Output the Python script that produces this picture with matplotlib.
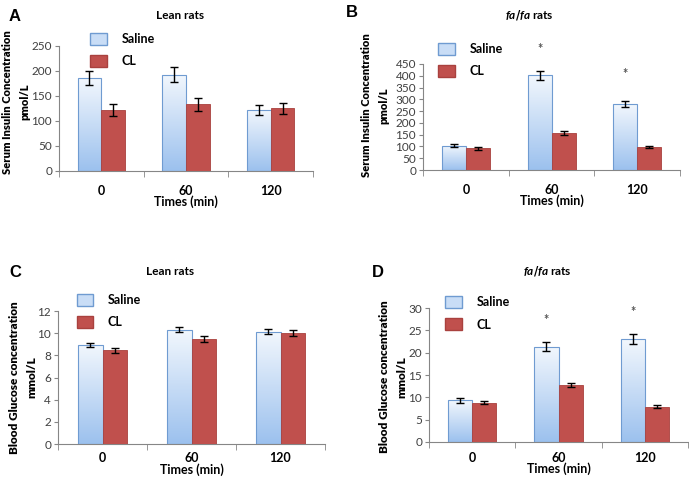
import numpy as np
import matplotlib.pyplot as plt
from matplotlib.patches import Patch
from matplotlib.colors import LinearSegmentedColormap

plt.rcParams['font.family'] = ['Lato', 'DejaVu Sans']
plt.rcParams['font.weight'] = 'bold'
plt.rcParams['mathtext.fontset'] = 'custom'
plt.rcParams['mathtext.it'] = 'Lato:italic:bold'

times = ['0', '60', '120']

# A: serum insulin, lean rats (pmol/L)
insulin_lean_saline = [185, 192, 122]
insulin_lean_saline_err = [14, 15, 10]
insulin_lean_cl = [121, 133, 125]
insulin_lean_cl_err = [12, 13, 11]

# B: serum insulin, fa/fa rats
insulin_fa_saline = [103, 402, 280]
insulin_fa_saline_err = [6, 20, 14]
insulin_fa_cl = [93, 157, 97]
insulin_fa_cl_err = [6, 8, 4]
insulin_fa_stars = [None, 514, 408]

# C: blood glucose, lean rats (mmol/L)
glucose_lean_saline = [8.95, 10.3, 10.15]
glucose_lean_saline_err = [0.2, 0.22, 0.2]
glucose_lean_cl = [8.45, 9.5, 10.0]
glucose_lean_cl_err = [0.25, 0.28, 0.3]

# D: blood glucose, fa/fa rats
glucose_fa_saline = [9.3, 21.3, 23.0]
glucose_fa_saline_err = [0.6, 1.0, 1.1]
glucose_fa_cl = [8.8, 12.8, 7.9]
glucose_fa_cl_err = [0.3, 0.4, 0.3]
glucose_fa_stars = [None, 27.3, 29.0]

blue_cmap = LinearSegmentedColormap.from_list('sal', ['#f2f7fd', '#9cc1ee'])
red = '#c0504d'
edge_blue = '#6f9bd1'
grey = '#868686'


def panel(rect, sal, sal_err, cl, cl_err, ymax, ystep, ylabel, lab_pos, lab_size, xpad, stars=None):
    ax = fig.add_axes(rect)
    x = np.arange(len(times))
    w = 0.28
    bars = ax.bar(x - w / 2, sal, w, color='none', edgecolor=edge_blue, linewidth=0.8, zorder=3)
    for b in bars:
        x0, h = b.get_x(), b.get_height()
        im = ax.imshow(np.linspace(0, 1, 100).reshape(-1, 1), cmap=blue_cmap, aspect='auto',
                       extent=[x0, x0 + w, 0, h], origin='upper', zorder=2)
        im.set_clip_path(b)
    ax.bar(x + w / 2, cl, w, color=red, edgecolor='#a9413e', linewidth=0.6, zorder=3)
    ax.errorbar(x - w / 2, sal, yerr=sal_err, fmt='none', ecolor='black', elinewidth=1, capsize=3, zorder=4)
    ax.errorbar(x + w / 2, cl, yerr=cl_err, fmt='none', ecolor='black', elinewidth=1, capsize=3, zorder=4)
    if stars:
        for xi, s in zip(x, stars):
            if s is not None:
                ax.text(xi - w / 2, s, '*', ha='center', va='center', fontsize=9, color='#555555', clip_on=False)
    ax.set_xlim(-0.5, len(times) - 0.5)
    ax.set_ylim(0, ymax)
    ax.set_yticks(np.arange(0, ymax + ystep / 2, ystep))
    ax.set_xticks(x)
    ax.set_xticklabels(times, fontsize=9, fontweight='bold')
    ax.set_xticks(np.arange(-0.5, len(times)), minor=True)
    ax.tick_params(axis='x', which='major', length=0, pad=xpad)
    ax.tick_params(axis='x', which='minor', length=4, color=grey, direction='out')
    ax.tick_params(axis='y', length=3, color=grey, labelsize=8.5, labelcolor='#404040', pad=2)
    for lbl in ax.get_yticklabels():
        lbl.set_fontweight('normal')
    ax.spines['top'].set_visible(False)
    ax.spines['right'].set_visible(False)
    ax.spines['left'].set_color(grey)
    ax.spines['bottom'].set_color(grey)
    ax.set_xlabel('Times (min)', fontsize=9, fontweight='bold', labelpad=-1)
    ax.set_ylabel(ylabel, fontsize=lab_size, fontweight='heavy', linespacing=1.7)
    ax.yaxis.set_label_coords(*lab_pos)
    return ax


def legend(ax, x, y):
    handles = [Patch(facecolor='#c9ddf6', edgecolor=edge_blue, label='Saline'),
               Patch(facecolor=red, edgecolor='#a9413e', label='CL')]
    ax.legend(handles=handles, loc='upper left', bbox_to_anchor=(x, y), bbox_transform=fig.transFigure,
              frameon=False, handlelength=1.3, handleheight=1.1, handletextpad=1.2,
              labelspacing=0.8, prop={'weight': 'bold', 'size': 9})


fig = plt.figure(figsize=(6.89, 4.83), dpi=100)

axA = panel([0.0856, 0.646, 0.3687, 0.259], insulin_lean_saline, insulin_lean_saline_err,
            insulin_lean_cl, insulin_lean_cl_err, 250, 50, 'Serum Insulin Concentration\npmol/L',
            (-0.114, 0.55), 8, 10)
legend(axA, 0.115, 0.955)
axB = panel([0.614, 0.648, 0.373, 0.2195], insulin_fa_saline, insulin_fa_saline_err,
            insulin_fa_cl, insulin_fa_cl_err, 450, 50, 'Serum Insulin Concentration\npmol/L',
            (-0.132, 0.61), 8, 10, insulin_fa_stars)
legend(axB, 0.62, 0.935)
axC = panel([0.0842, 0.0807, 0.3875, 0.2754], glucose_lean_saline, glucose_lean_saline_err,
            glucose_lean_cl, glucose_lean_cl_err, 12, 2, 'Blood Glucose concentration\nmmol/L',
            (-0.079, 0.50), 8.5, 6)
legend(axC, 0.095, 0.415)
axD = panel([0.6226, 0.0849, 0.376, 0.2774], glucose_fa_saline, glucose_fa_saline_err,
            glucose_fa_cl, glucose_fa_cl_err, 30, 5, 'Blood Glucose concentration\nmmol/L',
            (-0.085, 0.485), 8.5, 7, glucose_fa_stars)
legend(axD, 0.63, 0.41)

# titles and panel letters
fig.text(0.261, 0.968, 'Lean rats', ha='center', va='center', fontsize=8.5, fontweight='bold')
fig.text(0.768, 0.968, r'$\mathit{fa/fa}$' + ' rats', ha='center', va='center', fontsize=8.5, fontweight='bold')
fig.text(0.247, 0.438, 'Lean rats', ha='center', va='center', fontsize=8.5, fontweight='bold')
fig.text(0.794, 0.438, r'$\mathit{fa/fa}$' + ' rats', ha='center', va='center', fontsize=8.5, fontweight='bold')
for lab, x, y in [('A', 0.013, 0.965), ('B', 0.502, 0.975), ('C', 0.013, 0.435), ('D', 0.540, 0.435)]:
    fig.text(x, y, lab, ha='left', va='center', fontsize=12, fontweight='bold', family='Liberation Sans')

fig.savefig('out.png', dpi=100)
